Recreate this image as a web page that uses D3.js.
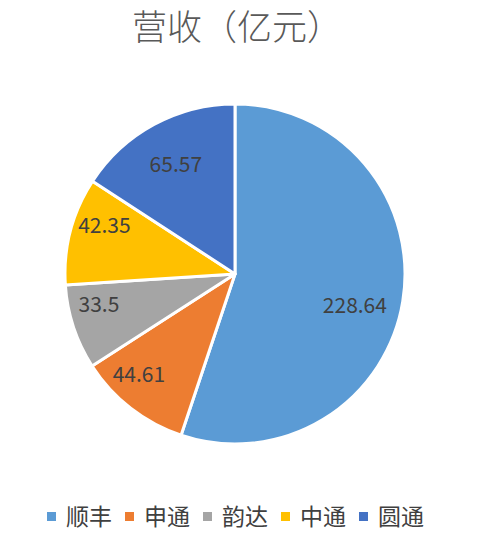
<!DOCTYPE html>
<html>
<head>
<meta charset="utf-8">
<script src="https://cdn.jsdelivr.net/npm/d3@7"></script>
<style>
	body { margin: 0; background: #fff; }
	svg text { font-family: "Noto Sans CJK SC", "Noto Sans", sans-serif; }
</style>
</head>
<body>
<div id="chart"></div>
<script>
// Revenue pie chart (亿元)

let companies = ["顺丰", "申通", "韵达", "中通", "圆通"];
let revenue = [228.64, 44.61, 33.5, 42.35, 65.57];
let colours = ["#5B9BD5", "#ED7D31", "#A5A5A5", "#FFC000", "#4472C4"];
let title = "营收（亿元）";

let width = 492, height = 537;

let svg = d3.select("#chart")
	.append("svg")
	.attr("width", width)
	.attr("height", height);

// Title sits right at the top edge
svg.append("text")
	.attr("x", 237)
	.attr("y", 40)
	.attr("text-anchor", "middle")
	.style("font-size", "35px")
	.style("font-weight", 300)
	.style("fill", "#595959")
	.text(title);

let cx = 235, cy = 274, radius = 170;

let colour = d3.scaleOrdinal().domain(companies).range(colours);

let pie = d3.pie().sort(null).value(d => d.value);
let data = companies.map((name, i) => ({ name: name, value: revenue[i] }));
let total = d3.sum(revenue);

let arc = d3.arc().innerRadius(0).outerRadius(radius);

// Excel-like "best fit": small slices push the label further out
let labelPos = function (d) {
	let share = d.value / total;
	let small = share < 0.15;
	let a = (d.startAngle + d.endAngle) / 2 + (small || share > 0.5 ? 0.1 : 0);
	let r = radius * (small ? 0.82 : 0.73);
	return [Math.sin(a) * r, -Math.cos(a) * r];
};

let g = svg.append("g").attr("transform", "translate(" + cx + "," + cy + ")");

let slices = g.selectAll(".slice")
	.data(pie(data))
	.enter().append("g")
	.attr("class", "slice");

slices.append("path")
	.attr("d", arc)
	.style("fill", d => colour(d.data.name))
	.style("stroke", "#fff")
	.style("stroke-width", 3)
	.style("stroke-linejoin", "round");

slices.append("text")
	.attr("transform", d => "translate(" + labelPos(d) + ")")
	.attr("text-anchor", "middle")
	.attr("dy", "0.35em")
	.style("font-size", "21px")
	.style("fill", "#404040")
	.text(d => d.data.value);

// Legend along the bottom
let legend = svg.append("g").attr("transform", "translate(0,517)");
let x = 47;
companies.forEach(function (name) {
	legend.append("rect")
		.attr("x", x)
		.attr("y", -5)
		.attr("width", 9)
		.attr("height", 9)
		.style("fill", colour(name));
	let t = legend.append("text")
		.attr("x", x + 19)
		.attr("dy", "0.35em")
		.style("font-size", "23px")
		.style("fill", "#404040")
		.text(name);
	x += 19 + t.node().getComputedTextLength() + 13;
});
</script>
</body>
</html>
